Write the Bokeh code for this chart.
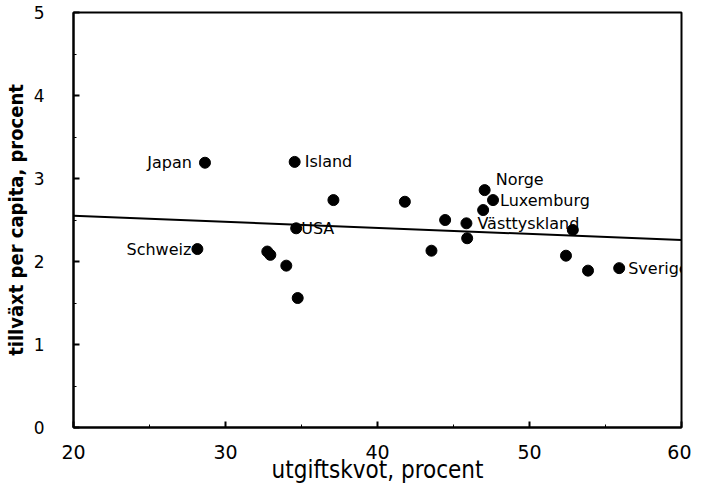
from bokeh.plotting import figure
from bokeh.models import Range1d, ColumnDataSource, LabelSet, SingleIntervalTicker
from bokeh.core.properties import value
from bokeh.embed import file_html
from bokeh.resources import INLINE

# ---- data ----
utgiftskvot = [28.65, 34.55, 37.1, 41.8, 34.65, 28.15, 32.75, 32.95, 34.0, 34.75, 43.55,
               44.45, 45.85, 45.9, 47.05, 47.6, 46.95, 52.85, 52.4, 53.85, 55.9]
tillvaxt = [3.19, 3.20, 2.74, 2.72, 2.40, 2.15, 2.12, 2.08, 1.95, 1.56, 2.13,
            2.50, 2.46, 2.28, 2.86, 2.74, 2.62, 2.38, 2.07, 1.89, 1.92]
land = ["Japan", "Island", "", "", "USA", "Schweiz", "", "", "", "", "",
        "", "Västtyskland", "", "Norge", "Luxemburg", "", "", "", "", "Sverige"]

trend_x = [20, 60]
trend_y = [2.55, 2.26]

# ---- label placement (screen offsets) ----
label_layout = {
    "Japan": (-13, 0, "right"),
    "Island": (10, 0, "left"),
    "USA": (5, 0, "left"),
    "Schweiz": (-6, 0, "right"),
    "Norge": (11, 11, "left"),
    "Luxemburg": (7, 0, "left"),
    "Västtyskland": (11, 0, "left"),
    "Sverige": (9, 0, "left"),
}

p = figure(width=691, height=486, output_backend="svg", toolbar_location=None,
           x_range=Range1d(20, 60), y_range=Range1d(0, 5),
           min_border_left=71, min_border_right=10, min_border_top=12, min_border_bottom=58)

p.background_fill_color = "white"
p.border_fill_color = "white"
p.outline_line_color = "black"
p.outline_line_width = 2
p.xgrid.visible = False
p.ygrid.visible = False

p.line(trend_x, trend_y, line_color="black", line_width=2)
p.scatter(utgiftskvot, tillvaxt, size=11, fill_color="black", line_color="black")

for align in ("left", "right"):
    names = [n for n in land if n and label_layout[n][2] == align]
    xs = [utgiftskvot[land.index(n)] for n in names]
    ys = [tillvaxt[land.index(n)] for n in names]
    src = ColumnDataSource(dict(
        x=xs, y=ys, text=names,
        dx=[label_layout[n][0] for n in names],
        dy=[label_layout[n][1] for n in names]))
    p.add_layout(LabelSet(x="x", y="y", text="text", source=src,
                          x_offset="dx", y_offset="dy",
                          text_align=align, text_baseline="middle",
                          text_font=value("DejaVu Sans"), text_font_size=value("16px"),
                          text_color="black"))

for ax, step in ((p.xaxis[0], 10), (p.yaxis[0], 1)):
    ax.ticker = SingleIntervalTicker(interval=step, num_minor_ticks=2)
    ax.axis_line_color = "black"
    ax.axis_line_width = 2
    ax.major_tick_in = 6
    ax.major_tick_out = 0
    ax.minor_tick_in = 3
    ax.minor_tick_out = 0
    ax.major_tick_line_color = "black"
    ax.minor_tick_line_color = "black"
    ax.major_tick_line_width = 2
    ax.major_label_text_color = "black"
    ax.axis_label_text_color = "black"
    ax.axis_label_text_font_style = "normal"

p.xaxis.axis_label = "utgiftskvot, procent"
p.xaxis.axis_label_text_font = "DejaVu Sans Condensed"
p.xaxis.axis_label_text_font_size = "24px"
p.xaxis.axis_label_standoff = -6
p.xaxis.major_label_text_font = "DejaVu Sans"
p.xaxis.major_label_text_font_size = "19px"
p.xaxis.major_label_standoff = 17

p.yaxis.axis_label = "tillväxt per capita, procent"
p.yaxis.axis_label_text_font = "DejaVu Sans Condensed"
p.yaxis.axis_label_text_font_style = "bold"
p.yaxis.axis_label_text_font_size = "20px"
p.yaxis.axis_label_standoff = 3
p.yaxis.major_label_text_font = "DejaVu Sans"
p.yaxis.major_label_text_font_size = "17px"
p.yaxis.major_label_standoff = 29
p.yaxis.major_label_orientation = "horizontal"

open("out.html", "w").write(file_html(p, INLINE))
